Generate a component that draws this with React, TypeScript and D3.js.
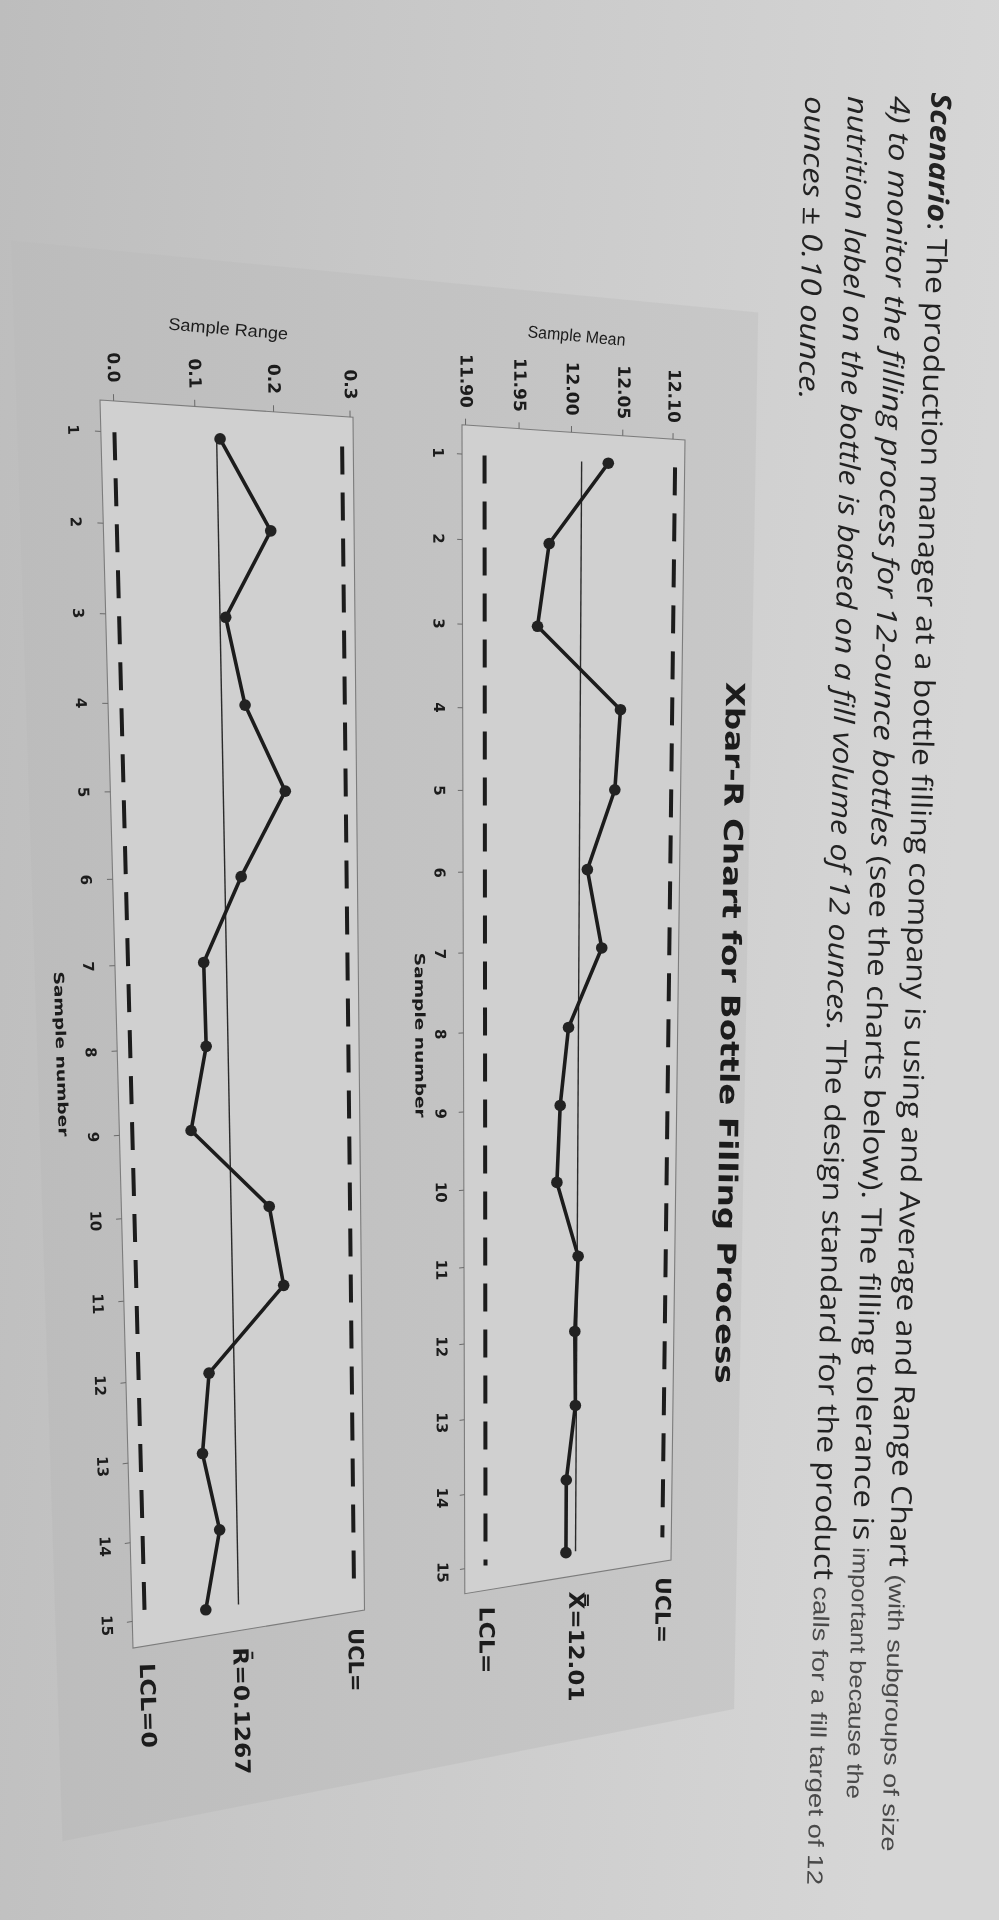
import React from "react";
import * as d3 from "d3";

// ---------------- data ----------------
const sampleNumbers = [1, 2, 3, 4, 5, 6, 7, 8, 9, 10, 11, 12, 13, 14, 15];
const sampleMeans = [12.036, 11.979, 11.968, 12.05, 12.045, 12.018, 12.033, 12.0, 11.992, 11.989, 12.011, 12.008, 12.009, 12.0, 12.0];
const sampleRanges = [0.131, 0.194, 0.134, 0.157, 0.208, 0.148, 0.097, 0.098, 0.076, 0.178, 0.196, 0.093, 0.082, 0.103, 0.082];
const meanTicks = [11.9, 11.95, 12.0, 12.05, 12.1];
const meanTickLabels = ["11.90", "11.95", "12.00", "12.05", "12.10"];
const rangeTicks = [0, 0.1, 0.2, 0.3];
const rangeTickLabels = ["0.0", "0.1", "0.2", "0.3"];
const meanLimits = [12.1024, 12.01, 11.9176]; // UCL, centre, LCL
const meanLimitLabels = ["UCL=", "X\u033F=12.01", "LCL="];
const rangeLimits = [0.2891, 0.1267, 0];
const rangeLimitLabels = ["UCL=", "R\u0304=0.1267", "LCL=0"];

const titleText = "Xbar-R Chart for Bottle Filling Process";
const scenarioMain = [
  ": The production manager at a bottle filling company is using and Average and Range Chart",
  "(see the charts below).  The filling tolerance is",
  "The design standard for the product",
  "",
];
const scenarioItalic = ["", "4) to monitor the filling process for 12-ounce bottles ", "nutrition label on the bottle is based on a fill volume of 12 ounces.  ", "ounces \u00B1 0.10 ounce."];
const scenarioTail = ["(with subgroups of size", "important because the", "calls for a fill target of 12", ""];

// ---------------- photo perspective (page -> image) ----------------
const PH = { a: 668.16, b: 45.04, c: 100, d: 93.42, e: 1397.18, f: 400, g: 0.1214, h: 0.09052 };
const proj = (u: number, v: number): [number, number] => {
  const D = PH.g * u + PH.h * v + 1;
  return [(PH.a * u + PH.b * v + PH.c) / D, (PH.d * u + PH.e * v + PH.f) / D];
};
const quad = (u0: number, u1: number, v0: number, v1: number) =>
  [proj(u0, v0), proj(u1, v0), proj(u1, v1), proj(u0, v1)].map((p) => `${p[0].toFixed(1)},${p[1].toFixed(1)}`).join(" ");
const angleAt = (u: number, v: number, along: "u" | "v") => {
  const [x, y] = proj(u, v);
  const [x2, y2] = along === "v" ? proj(u, v + 0.002) : proj(u + 0.002, v);
  return (Math.atan2(y2 - y, x2 - x) * 180) / Math.PI;
};

// ---------------- scales ----------------
const sampleToV = d3.scaleLinear().domain([0.66, 15.34]).range([0, 1]);
const rangeToU = d3.scaleLinear().domain([-0.0165, 0.3039]).range([0, 0.4046]);
const meanToU = d3.scaleLinear().domain([11.8967, 12.1121]).range([0.5914, 1]);

const INK = "#1b1b1b";

function PText(props: any) {
  const { u, v, along, children, size, weight = "normal", family = "DejaVu Sans", anchor = "middle", baseline = "middle", length, fill = INK, fstyle = "normal" } = props;
  const [x, y] = proj(u, v);
  const ang = angleAt(u, v, along);
  return (
    <text
      transform={`translate(${x.toFixed(2)},${y.toFixed(2)}) rotate(${ang.toFixed(2)})`}
      fontSize={size}
      fontWeight={weight}
      fontStyle={fstyle}
      fontFamily={family}
      textAnchor={anchor}
      dominantBaseline={baseline}
      fill={fill}
      textLength={length}
      lengthAdjust={length ? "spacingAndGlyphs" : undefined}
    >
      {children}
    </text>
  );
}

function SpanText(props: any) {
  const { u, v0, v1, children, size, weight = "normal", family = "Open Sans", fill = INK, fstyle = "normal" } = props;
  const p0 = proj(u, v0);
  const p1 = proj(u, v1);
  const ang = (Math.atan2(p1[1] - p0[1], p1[0] - p0[0]) * 180) / Math.PI;
  const len = Math.hypot(p1[0] - p0[0], p1[1] - p0[1]);
  return (
    <text
      transform={`translate(${p0[0].toFixed(2)},${p0[1].toFixed(2)}) rotate(${ang.toFixed(2)})`}
      fontSize={size}
      fontWeight={weight}
      fontStyle={fstyle}
      fontFamily={family}
      fill={fill}
      textLength={len.toFixed(1)}
      lengthAdjust="spacingAndGlyphs"
    >
      {children}
    </text>
  );
}

type ChartCfg = {
  key: string;
  values: number[];
  scale: d3.ScaleLinear<number, number>;
  ticks: number[];
  tickLabels: string[];
  limits: number[];
  limitLabels: string[];
  limitLens: number[];
  title: string;
  titleLen: number;
  titleV: number;
  xlabU: number;
};

const charts: ChartCfg[] = [
  {
    key: "mean",
    values: sampleMeans,
    scale: meanToU,
    ticks: meanTicks,
    tickLabels: meanTickLabels,
    limits: meanLimits,
    limitLabels: meanLimitLabels,
    limitLens: [66, 110, 67],
    title: "Sample Mean",
    titleLen: 98,
    titleV: -0.0767,
    xlabU: -0.08,
  },
  {
    key: "range",
    values: sampleRanges,
    scale: rangeToU,
    ticks: rangeTicks,
    tickLabels: rangeTickLabels,
    limits: rangeLimits,
    limitLabels: rangeLimitLabels,
    limitLens: [63, 127, 85],
    title: "Sample Range",
    titleLen: 120,
    titleV: -0.059,
    xlabU: -0.09,
  },
];

function Chart({ cfg }: { cfg: ChartCfg }) {
  const [u0, u1] = cfg.scale.range();
  const line = d3.line();
  const pts = cfg.values.map((val, i) => proj(cfg.scale(val), sampleToV(sampleNumbers[i])));
  const vFirst = sampleToV(sampleNumbers[0]);
  const vLast = sampleToV(sampleNumbers[sampleNumbers.length - 1]);
  const uMid = (u0 + u1) / 2;
  return (
    <g>
      <polygon points={quad(u0, u1, 0, 1)} fill="#d0d0d0" stroke="#7c7c7c" strokeWidth={1.1} />
      {/* value ticks */}
      {cfg.ticks.map((t, i) => {
        const uu = cfg.scale(t);
        return (
          <g key={`vt${i}`}>
            <path d={line([proj(uu, 0), proj(uu, -0.005)]) || ""} stroke="#6a6a6a" strokeWidth={1} />
            <PText u={uu} v={-0.0135} along="v" anchor="end" size={17} weight="bold">
              {cfg.tickLabels[i]}
            </PText>
          </g>
        );
      })}
      {/* sample ticks */}
      {sampleNumbers.map((s) => {
        const vv = sampleToV(s);
        return (
          <g key={`st${s}`}>
            <path d={line([proj(u0, vv), proj(u0 - 0.009, vv)]) || ""} stroke="#6a6a6a" strokeWidth={1} />
            <PText u={u0 - 0.043} v={vv} along="v" size={15} weight="bold">
              {String(s)}
            </PText>
          </g>
        );
      })}
      <PText u={u0 + cfg.xlabU} v={sampleToV(8)} along="v" size={14} weight="bold" length={165}>
        Sample number
      </PText>
      <PText u={uMid} v={cfg.titleV} along="u" size={17} family="Liberation Sans" length={cfg.titleLen}>
        {cfg.title}
      </PText>
      {/* control limits */}
      {cfg.limits.map((lim, i) => {
        const uu = cfg.scale(lim);
        const d = line([proj(uu, vFirst), proj(uu, vLast)]) || "";
        return i === 1 ? (
          <path key={`lim${i}`} d={d} stroke="#2a2a2a" strokeWidth={1.4} fill="none" />
        ) : (
          <path key={`lim${i}`} d={d} stroke={INK} strokeWidth={4} strokeDasharray="28 18" fill="none" />
        );
      })}
      {cfg.limits.map((lim, i) => (
        <PText key={`ll${i}`} u={cfg.scale(lim)} v={1.015} along="v" anchor="start" size={21} weight="bold" length={cfg.limitLens[i]}>
          {cfg.limitLabels[i]}
        </PText>
      ))}
      {/* data */}
      <path d={line(pts) || ""} fill="none" stroke="#1e1e1e" strokeWidth={3.6} strokeLinejoin="round" />
      {pts.map((p, i) => (
        <circle key={`p${i}`} cx={p[0]} cy={p[1]} r={5.8} fill="#232323" />
      ))}
    </g>
  );
}

export default function App() {
  const lineU = [1.476, 1.392, 1.307, 1.222];
  const mainV0 = [-0.309, -0.301, -0.296, -0.291];
  const mainV1 = [1.043, 1.01, 1.043, -0.0408];
  const tailV0 = [1.0507, 1.017, 1.0497, 0];
  const tailV1 = [1.338, 1.274, 1.3547, 0];
  return (
    <div style={{ position: "absolute", left: 0, top: 0, width: 999, height: 1920, overflow: "hidden" }}>
      <svg width={999} height={1920} viewBox="0 0 999 1920" style={{ display: "block" }}>
        <defs>
          <linearGradient id="bg" x1="0" y1="0" x2="1" y2="0.15">
            <stop offset="0" stopColor="#bdbdbd" />
            <stop offset="0.45" stopColor="#c9c9c9" />
            <stop offset="1" stopColor="#d6d6d6" />
          </linearGradient>
          <linearGradient id="panel" x1="0" y1="0" x2="1" y2="0">
            <stop offset="0" stopColor="#bcbcbc" />
            <stop offset="1" stopColor="#c8c8c8" />
          </linearGradient>
          <filter id="soft" x="-5%" y="-5%" width="110%" height="110%">
            <feGaussianBlur stdDeviation="0.6" />
          </filter>
        </defs>
        <rect x={0} y={0} width={999} height={1920} fill="url(#bg)" />
        <g filter="url(#soft)">
          <polygon points={quad(-0.126, 1.138, -0.11, 1.158)} fill="url(#panel)" />
          {charts.map((c) => (
            <Chart key={c.key} cfg={c} />
          ))}
          <SpanText u={1.087} v0={0.2022} v1={0.8372} size={26} weight="bold" family="DejaVu Sans">
            {titleText}
          </SpanText>
          {scenarioMain.map((txt, i) => (
            <SpanText key={`sm${i}`} u={lineU[i]} v0={mainV0[i]} v1={mainV1[i]} size={28} family="Open Sans" fill="#222">
              {i === 0 ? (
                <tspan fontWeight="bold" fontStyle="italic">
                  Scenario
                </tspan>
              ) : null}
              {scenarioItalic[i] ? <tspan fontStyle="italic">{scenarioItalic[i]}</tspan> : null}
              {txt}
            </SpanText>
          ))}
          {scenarioTail.map((txt, i) =>
            txt ? (
              <SpanText key={`st${i}`} u={lineU[i]} v0={tailV0[i]} v1={tailV1[i]} size={22} family="Liberation Sans" fill="#484848">
                {txt}
              </SpanText>
            ) : null
          )}
        </g>
      </svg>
    </div>
  );
}
